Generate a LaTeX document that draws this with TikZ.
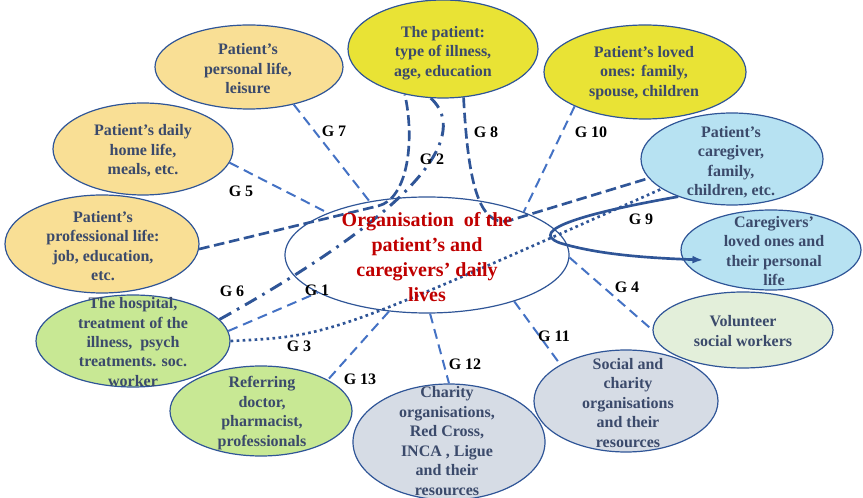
\documentclass[tikz,border=0pt]{standalone}
\usepackage{fontspec}
\setmainfont{Liberation Serif}
\usetikzlibrary{shapes.geometric, arrows.meta}

\definecolor{edgeBlue}{HTML}{2F5597}
\definecolor{lineBlue}{HTML}{4472C4}
\definecolor{txtSlate}{HTML}{3B4A6B}
\definecolor{orgRed}{HTML}{C00000}
\definecolor{fillTan}{HTML}{F9DF95}
\definecolor{fillYellow}{HTML}{E9E335}
\definecolor{fillSky}{HTML}{B7E2F2}
\definecolor{fillGreen}{HTML}{C8E894}
\definecolor{fillMint}{HTML}{E3EFDA}
\definecolor{fillGrey}{HTML}{D6DCE5}

\tikzset{
  bubble/.style={ellipse, draw=edgeBlue, line width=0.9pt, inner sep=0pt},
  bubtext/.style={align=center, text=txtSlate, font=\fontsize{12}{14.6}\selectfont\bfseries},
  glab/.style={text=black, font=\fontsize{12}{14}\selectfont\bfseries},
  linkA/.style={draw=lineBlue, line width=1.5pt, dash pattern=on 7.5pt off 4.5pt},
  linkB/.style={draw=edgeBlue, line width=2pt, dash pattern=on 8pt off 3.5pt},
  linkDD/.style={draw=edgeBlue, line width=2.2pt, dash pattern=on 10pt off 5pt on 2pt off 5pt},
  linkDot/.style={draw=edgeBlue, line width=2pt, dash pattern=on 2pt off 2.5pt},
  linkSolid/.style={draw=edgeBlue, line width=2pt},
}

\begin{document}
\begin{tikzpicture}[x=0.75pt,y=0.75pt,yscale=-1,xscale=1]
\useasboundingbox (0,0) rectangle (863,498);

%Shape: Ellipses
\node [bubble, fill=fillTan, minimum width=141pt, minimum height=63pt] (pers) at (249,67) {};
\node [bubble, fill=fillYellow, minimum width=142.5pt, minimum height=73.5pt] (pat) at (443,49) {};
\node [bubble, fill=fillYellow, minimum width=151.5pt, minimum height=70.5pt] (lov) at (645,72) {};
\node [bubble, fill=fillTan, minimum width=135pt, minimum height=69pt] (home) at (143,149) {};
\node [bubble, fill=fillTan, minimum width=145.5pt, minimum height=73.5pt] (prof) at (102,244) {};
\node [bubble, fill=fillSky, minimum width=136.5pt, minimum height=69pt] (care) at (732,159) {};
\node [bubble, fill=fillSky, minimum width=135pt, minimum height=60pt] (clov) at (771,250) {};
\node [bubble, fill=fillMint, minimum width=135pt, minimum height=57pt] (vol) at (743,330) {};
\node [bubble, fill=fillGrey, minimum width=138pt, minimum height=76.5pt] (soc) at (626,401) {};
\node [bubble, fill=fillGrey, minimum width=144pt, minimum height=87pt] (char) at (449,442) {};
\node [bubble, fill=fillGreen, minimum width=136.5pt, minimum height=67.5pt] (ref) at (261,411) {};
\node [bubble, fill=fillGreen, minimum width=145.5pt, minimum height=69pt] (hosp) at (133,341) {};
\node [bubble, fill=white, minimum width=213pt, minimum height=87pt] (org) at (427,255) {};

%Straight Lines
\draw [linkA] (pers.320) -- (org.137);
\draw [linkA] (home.351) -- (org.157);
\draw [linkA] (lov.206) -- (org.24);
\draw [linkA] (org.359) -- (vol.180);
\draw [linkA] (org.332) -- (soc.151);
\draw [linkA] (org.273) -- (char.90);
\draw [linkA] (org.236) -- (ref.25);
\draw [linkA] (hosp.6) -- (org.199);

%Curve Lines
\draw [linkB] (prof.357) -- (378,206) .. controls (408,199) and (415,140) .. (pat.230);
\draw [linkB] (pat.293) .. controls (468,180) and (478,226) .. (508,221) -- (care.193);
\draw [linkDD] (hosp.14) .. controls (470,180) and (455,120) .. (pat.256);
\draw [linkDot] (hosp.0) .. controls (330,336) .. (care.203);
\draw [linkSolid, -{Latex[length=8pt,width=6pt]}] (care.215) .. controls (590,212) and (525,230) .. (560,243)
   .. controls (600,255) and (650,258) .. ([xshift=17pt,yshift=7.5pt]clov.west);

% Text Node
\node [bubtext] (persT) at (248,69) {Patient’s\\personal life,\\leisure};
\node [bubtext] (patT) at (443,53) {The patient:\\type of illness,\\age, education};
\node [bubtext] (lovT) at (644,73) {Patient’s loved\\ones: family,\\spouse, children};
\node [bubtext] (homeT) at (143,151) {Patient’s daily\\home life,\\meals, etc.};
\node [bubtext] (profT) at (103,246) {Patient’s\\professional life:\\job, education,\\etc.};
\node [bubtext] (careT) at (731,162) {Patient’s\\caregiver,\\family,\\children, etc.};
\node [bubtext] (clovT) at (774,251) {Caregivers’\\loved ones and\\their personal\\life};
\node [bubtext] (volT) at (743,331) {Volunteer\\social workers};
\node [bubtext] (socT) at (628,403) {Social and\\charity\\organisations\\and their\\resources};
\node [bubtext] (charT) at (447,441) {Charity\\organisations,\\Red Cross,\\INCA , Ligue\\and their\\resources};
\node [bubtext] (refT) at (262,413) {Referring\\doctor,\\pharmacist,\\professionals};
\node [bubtext] (hospT) at (133,342) {The hospital,\\treatment of the\\illness,\ \ psych\\treatments. soc.\\worker};
\node [align=center, text=orgRed, font=\fontsize{15}{18.75}\selectfont\bfseries] (orgT) at (427,257)
   {Organisation\ \ of the\\patient’s and\\caregivers’ daily\\lives};

% Labels
\node [glab] (g7) at (334,131) {G 7};
\node [glab] (g5) at (241,191) {G 5};
\node [glab] (g2) at (432,159) {G 2};
\node [glab] (g8) at (486,132) {G 8};
\node [glab] (g10) at (591,132) {G 10};
\node [glab] (g9) at (641,219) {G 9};
\node [glab] (g6) at (232,291) {G 6};
\node [glab] (g1) at (317,290) {G 1};
\node [glab] (g3) at (299,346) {G 3};
\node [glab] (g13) at (360,379) {G 13};
\node [glab] (g4) at (627,287) {G 4};
\node [glab] (g11) at (554,336) {G 11};
\node [glab] (g12) at (465,364) {G 12};
\end{tikzpicture}
\end{document}
